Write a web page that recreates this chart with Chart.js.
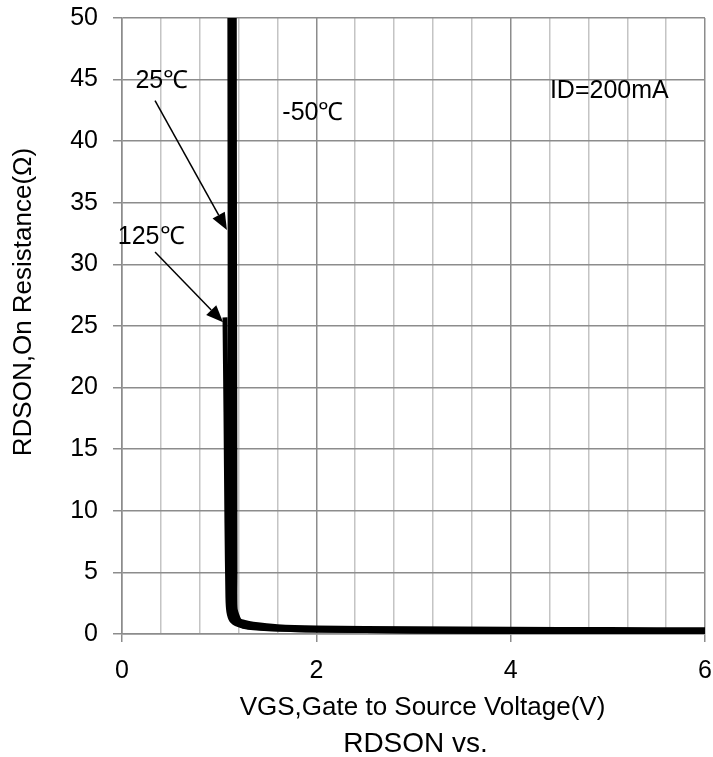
<!DOCTYPE html>
<html>
<head>
<meta charset="utf-8">
<script src="https://cdn.jsdelivr.net/npm/chart.js@4/dist/chart.umd.min.js"></script>
<style>
  html, body { margin: 0; padding: 0; background: #fff; }
  #wrap { width: 713px; height: 757px; position: relative; }
</style>
</head>
<body>
<div id="wrap"><canvas id="c"></canvas></div>
<script>
// RDSON vs VGS, ID=200mA
const vgs125 = [1.06, 1.07, 1.08, 1.09, 1.10, 1.13, 1.2, 1.3, 1.6, 2, 3, 4, 5, 6];
const rds125 = [25.7, 18, 9, 3, 1.8, 1.1, 0.75, 0.55, 0.4, 0.32, 0.25, 0.2, 0.17, 0.15];
const vgs25 = [1.115, 1.118, 1.12, 1.123, 1.125, 1.15, 1.2, 1.3, 1.6, 2, 3, 4, 5, 6];
const rds25 = [52, 30, 15, 5, 2.0, 1.2, 0.85, 0.62, 0.45, 0.36, 0.29, 0.25, 0.22, 0.2];
const vgsM50 = [1.15, 1.153, 1.156, 1.158, 1.16, 1.2, 1.26, 1.35, 1.6, 2, 3, 4, 5, 6];
const rdsM50 = [52, 30, 15, 5, 2.0, 1.1, 0.9, 0.75, 0.55, 0.45, 0.38, 0.35, 0.32, 0.3];

const xLabels = [0, 2, 4, 6];

// text notes and arrows, in data units
const noteText = ['25℃', '-50℃', '125℃', 'ID=200mA'];
const noteX = [0.41, 1.965, 0.30, 5.015];
const noteY = [44.9, 42.3, 32.2, 44.1];
const arrowFrom = [[0.34, 43.3], [0.34, 31.0]];
const arrowTo = [[1.08, 32.8], [1.04, 25.3]];

const FONT = "'Liberation Sans', Arial, sans-serif";

function pts(xs, ys) { return xs.map((x, i) => ({ x, y: ys[i] })); }
function isLabelled(v) { return xLabels.some(l => Math.abs(l - v) < 1e-6); }

const notesPlugin = {
  id: 'notes',
  afterDraw(chart) {
    const { ctx, scales: { x, y }, chartArea } = chart;
    ctx.save();
    ctx.fillStyle = '#000';
    ctx.font = `25px ${FONT}`;
    ctx.textAlign = 'center';
    ctx.textBaseline = 'middle';
    noteText.forEach((t, i) => {
      ctx.fillText(t, x.getPixelForValue(noteX[i]), y.getPixelForValue(noteY[i]));
    });

    ctx.strokeStyle = '#000';
    ctx.lineWidth = 1.5;
    arrowFrom.forEach((f, i) => {
      const x0 = x.getPixelForValue(f[0]), y0 = y.getPixelForValue(f[1]);
      const x1 = x.getPixelForValue(arrowTo[i][0]), y1 = y.getPixelForValue(arrowTo[i][1]);
      const a = Math.atan2(y1 - y0, x1 - x0);
      const len = 17, half = 7;
      const bx = x1 - len * Math.cos(a), by = y1 - len * Math.sin(a);
      ctx.beginPath();
      ctx.moveTo(x0, y0);
      ctx.lineTo(bx, by);
      ctx.stroke();
      ctx.beginPath();
      ctx.moveTo(x1, y1);
      ctx.lineTo(bx + half * Math.sin(a), by - half * Math.cos(a));
      ctx.lineTo(bx - half * Math.sin(a), by + half * Math.cos(a));
      ctx.closePath();
      ctx.fill();
    });

    // axis titles and chart title
    const cx = (chartArea.left + chartArea.right) / 2;
    ctx.font = `26px ${FONT}`;
    ctx.fillText('VGS,Gate to Source Voltage(V)', cx + 9, chartArea.bottom + 74);
    ctx.font = `28px ${FONT}`;
    ctx.fillText('RDSON vs.', cx + 2, chartArea.bottom + 110);
    ctx.font = `26px ${FONT}`;
    ctx.translate(24, 302);
    ctx.rotate(-Math.PI / 2);
    ctx.fillText('RDSON,On Resistance(Ω)', 0, 0);
    ctx.restore();
  }
};

const lineDs = (label, data, w) => ({
  label, data,
  borderColor: '#000', backgroundColor: '#000',
  borderWidth: w, pointRadius: 0, showLine: true, tension: 0.2,
  borderJoinStyle: 'round', clip: 0,
});

new Chart(document.getElementById('c'), {
  type: 'scatter',
  data: {
    datasets: [
      lineDs('125℃', pts(vgs125, rds125), 5),
      lineDs('25℃', pts(vgs25, rds25), 6),
      lineDs('-50℃', pts(vgsM50, rdsM50), 6),
    ]
  },
  options: {
    responsive: true,
    maintainAspectRatio: false,
    animation: false,
    events: [],
    layout: { padding: { left: 10, right: 8, top: 18, bottom: 63 } },
    plugins: { legend: { display: false }, tooltip: { enabled: false }, title: { display: false } },
    scales: {
      x: {
        type: 'linear', min: 0, max: 6,
        border: { color: '#8c8c8c', width: 1.5 },
        grid: {
          lineWidth: 1.5,
          tickLength: 8,
          color: c => isLabelled(c.tick.value) ? '#8c8c8c' : '#c4c4c4',
          tickColor: c => isLabelled(c.tick.value) ? '#8c8c8c' : 'rgba(0,0,0,0)',
        },
        ticks: {
          stepSize: 0.4,
          autoSkip: false,
          maxRotation: 0,
          color: '#000',
          font: { family: FONT, size: 25 },
          padding: 14,
          callback: v => isLabelled(v) ? String(Math.round(v)) : '',
        },
        afterFit: s => { s.height = 60; s.paddingLeft = 0; s.paddingRight = 0; },
      },
      y: {
        min: 0, max: 50,
        border: { color: '#8c8c8c', width: 1.5 },
        grid: { lineWidth: 1.5, tickLength: 9, color: '#8c8c8c' },
        ticks: {
          stepSize: 5,
          color: '#000',
          font: { family: FONT, size: 25 },
          padding: 15,
        },
        afterFit: s => { s.width = 112; s.paddingTop = 0; s.paddingBottom = 0; },
      },
    },
  },
  plugins: [notesPlugin],
});
</script>
</body>
</html>
